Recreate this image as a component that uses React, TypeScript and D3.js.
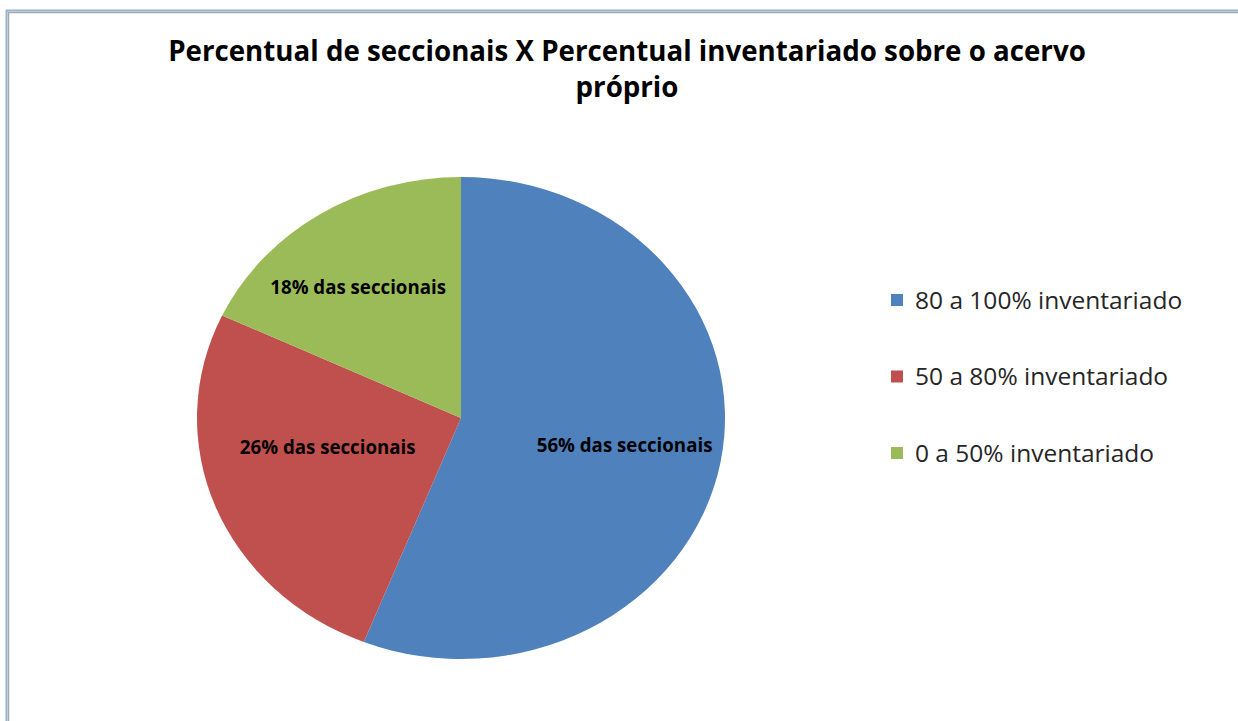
import React from "react";
import * as d3 from "d3";

// chart data
const categories = ["80 a 100% inventariado", "50 a 80% inventariado", "0 a 50% inventariado"];
const shares = [56, 26, 18];
const sliceLabels = ["56% das seccionais", "26% das seccionais", "18% das seccionais"];
const colors = ["#4F81BD", "#C0504D", "#9BBB59"];
const titleLines = ["Percentual de seccionais X Percentual inventariado sobre o acervo", "próprio"];

const W = 1238;
const H = 721;
const cx = 461;
const cy = 418;
const r = 241;
const stretchX = 264 / 241; // pie is drawn a bit wider than tall
const font = "'Open Sans', Lato, sans-serif";

// small tweaks to sit the labels where the original puts them
const labelNudge = [
  [8, 0],
  [14, -24],
  [-18, -8],
];

const App = () => {
  const pie = d3
    .pie<number>()
    .sort(null)
    .value((d) => d);
  const arcs = pie(shares);

  const arc = d3.arc<d3.PieArcDatum<number>>().innerRadius(0).outerRadius(r);
  const labelArc = d3
    .arc<d3.PieArcDatum<number>>()
    .innerRadius(r * 0.6)
    .outerRadius(r * 0.6);

  const legendY = d3
    .scalePoint<string>()
    .domain(categories)
    .range([300, 453]);

  return (
    <svg
      width={W}
      height={H}
      style={{ position: "absolute", left: 0, top: 0, background: "#fff" }}
    >
      {/* frame */}
      <rect x={0} y={0} width={W} height={H} fill="#fff" />
      <path d={`M6.5,${H} V10.5 H${W}`} fill="none" stroke="#95B3D7" strokeWidth={2} />
      <path d={`M8.5,${H} V12.5 H${W}`} fill="none" stroke="#A6A6A6" strokeWidth={1.5} />

      {/* title */}
      <text
        x={627}
        textAnchor="middle"
        fontFamily={font}
        fontWeight="bold"
        fontSize={27.7}
        fill="#000"
      >
        {titleLines.map((t, i) => (
          <tspan key={i} x={627} y={61 + i * 36}>
            {t}
          </tspan>
        ))}
      </text>

      {/* pie */}
      <g transform={`translate(${cx},${cy}) scale(${stretchX},1)`}>
        {arcs.map((a, i) => (
          <path key={i} d={arc(a) || ""} fill={colors[i]} />
        ))}
      </g>

      {/* slice labels */}
      {arcs.map((a, i) => {
        const [lx, ly] = labelArc.centroid(a);
        return (
          <text
            key={i}
            x={cx + lx * stretchX + labelNudge[i][0]}
            y={cy + ly + labelNudge[i][1]}
            dy="0.35em"
            textAnchor="middle"
            fontFamily={font}
            fontWeight="bold"
            fontSize={18.7}
            fill="#000"
          >
            {sliceLabels[i]}
          </text>
        );
      })}

      {/* legend */}
      {categories.map((c, i) => {
        const y = legendY(c) || 0;
        return (
          <g key={c}>
            <rect x={891} y={y - 6} width={12} height={12} fill={colors[i]} />
            <text
              x={915}
              y={y}
              dy="0.36em"
              fontFamily={font}
              fontSize={24.5}
              fill="#262626"
            >
              {c}
            </text>
          </g>
        );
      })}
    </svg>
  );
};

export default App;
